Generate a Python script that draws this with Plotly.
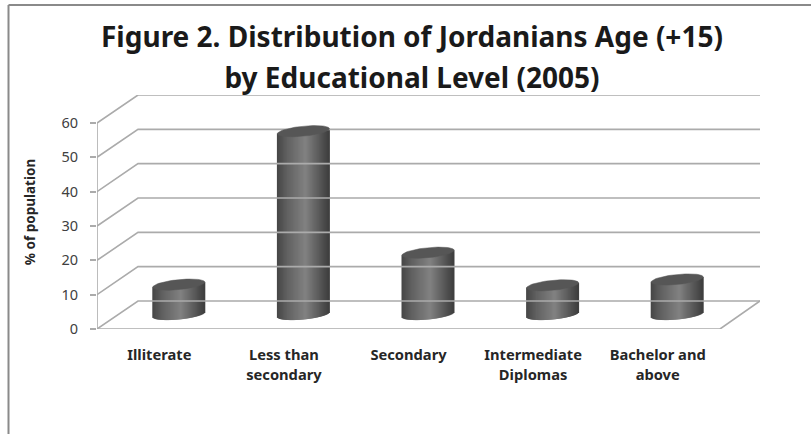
import numpy as np
import plotly.graph_objects as go

categories = ["Illiterate", "Less than<br>secondary", "Secondary", "Intermediate<br>Diplomas", "Bachelor and<br>above"]
values = [8.7, 53.4, 18, 8.5, 10.2]
y_ticks = [0, 10, 20, 30, 40, 50, 60]
title_text = "Figure 2. Distribution of Jordanians Age (+15)<br>by Educational Level (2005)"
y_title = "% of population"

W, H = 811, 434
L, R, T, B = 97, 760, 95, 329
PX_X = 124.6          # px per category
PX_Y = (329 - 123) / 60
DX = 41 / PX_X        # 3-D depth in axis units
DY = 28 / PX_Y
XMIN = -0.5
XMAX = XMIN + (R - L) / PX_X
YMAX = (B - T) / PX_Y
GRID = "#ababab"
FONT = "Noto Sans"

fig = go.Figure()
line = dict(color=GRID, width=1.6)
opts = dict(mode="lines", line=line, hoverinfo="skip", showlegend=False, cliponaxis=False)
n = len(categories)
for v in y_ticks:
    fig.add_trace(go.Scatter(x=[XMIN, XMIN + DX, XMAX], y=[v, v + DY, v + DY], **opts))
fig.add_trace(go.Scatter(x=[XMIN, XMIN], y=[y_ticks[0], y_ticks[-1]], **opts))
fig.add_trace(go.Scatter(x=[XMIN, XMIN + n, XMAX], y=[0, 0, DY], **opts))

# cylinders: a stack of one-pixel bars shaded left to right, plus an ellipse cap
a = 26 / PX_X
b = 5 / PX_Y
tilt = 2.5 / PX_Y
cx_off = 19.5 / PX_X
cy_off = 14.5 / PX_Y
N = 52
u = (np.arange(N) + 0.5) / N * 2 - 1
stops_u = [-1, -0.6, 0.1, 0.6, 1]
stops_c = [70, 98, 130, 92, 62]
shade = np.interp(u, stops_u, stops_c)
cols = [f"rgb({int(s)},{int(s)},{int(s)})" for s in shade]
t = np.linspace(0, 2 * np.pi, 60)
for i, val in enumerate(values):
    cx = i + cx_off
    bottom = cy_off - b * np.sqrt(1 - u ** 2) + tilt * u
    top = cy_off + val + tilt * u
    fig.add_trace(go.Bar(x=cx + a * u, base=bottom, y=top - bottom, width=2 * a / N * 2,
                         marker=dict(color=cols, line=dict(width=0)),
                         hoverinfo="skip", showlegend=False))
    fig.add_trace(go.Scatter(x=cx + a * np.cos(t),
                             y=cy_off + val + b * np.sin(t) + tilt * np.cos(t),
                             mode="lines", fill="toself", fillcolor="#565656",
                             line=dict(color="#565656", width=0.5),
                             hoverinfo="skip", showlegend=False))

ticktext = [f'<span style="font-size:14.7px">{c}</span>' for c in categories]
title_html = f'<span style="font-size:28px">{title_text}</span>'
border = dict(color="#8a8a8a", width=2)


def px_x(p):
    return (p - L) / (R - L)


def px_y(p):
    return (B - p) / (B - T)


fig.update_layout(
    width=W, height=H, autosize=False, barmode="overlay",
    margin=dict(l=L, r=W - R, t=T, b=H - B),
    paper_bgcolor="white", plot_bgcolor="white",
    font=dict(family=FONT, color="#262626"),
    showlegend=False,
    xaxis=dict(range=[XMIN, XMAX], tickvals=list(range(n)), ticktext=ticktext,
               tickfont=dict(size=15.4, family=FONT, weight="bold", color="#262626"),
               showgrid=False, zeroline=False, showline=False, ticks="",
               ticklabelstandoff=15),
    yaxis=dict(range=[0, YMAX], tickvals=y_ticks, ticks="outside", ticklen=6, tickwidth=2,
               tickcolor=GRID, tickfont=dict(size=14.5, family=FONT, color="#404040"),
               ticklabelstandoff=9,
               showgrid=False, zeroline=False, showline=False,
               title=dict(text=y_title, font=dict(size=13.5, family=FONT, weight="bold", color="#262626"), standoff=22)),
    annotations=[dict(text=title_html, xref="paper", yref="paper", x=px_x(412), y=px_y(56.5),
                      xanchor="center", yanchor="middle", showarrow=False, align="center",
                      font=dict(size=31.5, family=FONT, weight="bold", color="#1a1a1a"))],
    shapes=[
        dict(type="line", xref="paper", yref="paper", x0=px_x(8.5), x1=px_x(811), y0=px_y(5), y1=px_y(5), line=border),
        dict(type="line", xref="paper", yref="paper", x0=px_x(8.5), x1=px_x(8.5), y0=px_y(5), y1=px_y(434), line=border),
    ],
)
fig.write_html("out.html", config={"displayModeBar": False}, post_script="document.body.style.margin='0';")
